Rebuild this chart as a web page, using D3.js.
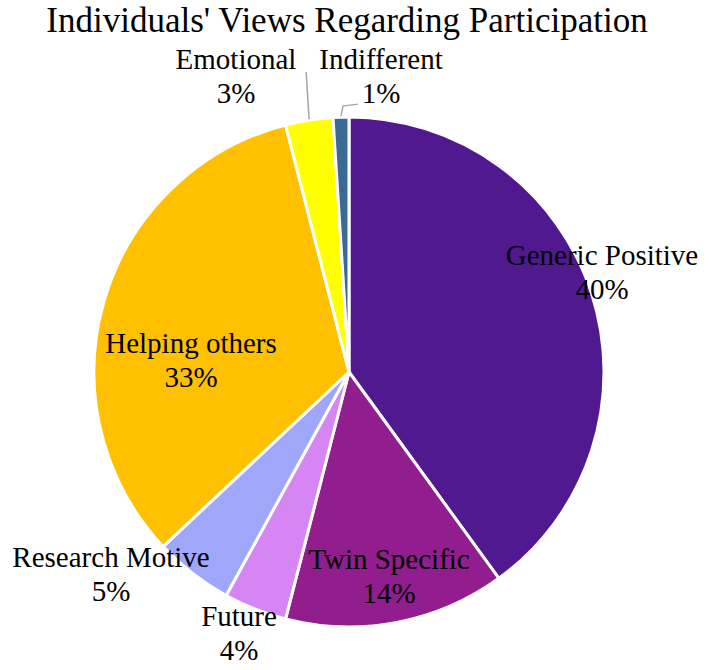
<!DOCTYPE html>
<html><head><meta charset="utf-8">
<script src="https://cdn.jsdelivr.net/npm/d3@7"></script>
<style>html,body{margin:0;padding:0;background:#fff;}svg{display:block;} text{font-family:"Liberation Serif","Times New Roman",Tinos,"DejaVu Serif",serif;}</style>
</head><body>
<svg id="c" width="709" height="670"></svg>
<script>
const categories = ["Generic Positive","Twin Specific","Future","Research Motive","Helping others","Emotional","Indifferent"];
const values = [40,14,4,5,33,3,1];
const colors = ["#501990","#911D8F","#D685F5","#A0A7FA","#FFC000","#FFFF00","#3A6A94"];
const title = "Individuals' Views Regarding Participation";
// label layout (center x,y of label block relative to pie center), separate from data
const labelLayout = [[253,-90],[40,214],[-110,271],[-238,212],[-158,-2],[-113,-286],[32,-286]];
const leader = [false,false,false,false,false,true,true];

const W=709,H=670, cx=349, cy=372, R=255;
const svg=d3.select("#c");

svg.append("text").attr("x",347).attr("y",32).attr("text-anchor","middle")
  .attr("font-size",35).attr("fill","#000").text(title);

const data = categories.map((c,i)=>({name:c,value:values[i],color:colors[i],i}));
const pie=d3.pie().value(d=>d.value).sort(null).startAngle(0).endAngle(2*Math.PI);
const arcs=pie(data);
const arc=d3.arc().innerRadius(0).outerRadius(R);
const g=svg.append("g").attr("transform",`translate(${cx},${cy})`);
g.selectAll("path").data(arcs).join("path").attr("d",arc)
  .attr("fill",d=>d.data.color).attr("stroke","#fff").attr("stroke-width",3).attr("stroke-linejoin","round");

// leader lines
arcs.forEach((a,i)=>{
  if(!leader[i]) return;
  const m=(a.startAngle+a.endAngle)/2;
  const p=d3.pointRadial(m,R);
  const [lx,ly]=labelLayout[i];
  let pts;
  if(a.data.name==="Emotional"){
    pts=[[p[0],p[1]-1],[p[0]-3,ly-14]];
  } else {
    pts=[[p[0],p[1]-1],[p[0]+2,p[1]-11],[lx-23,p[1]-13]];
  }
  g.append("path").attr("d",d3.line()(pts)).attr("fill","none").attr("stroke","#A6A6A6").attr("stroke-width",1.5);
});

const lab=g.selectAll("g.lab").data(arcs).join("g").attr("class","lab")
  .attr("transform",(d,i)=>`translate(${labelLayout[i][0]},${labelLayout[i][1]})`);
lab.append("text").attr("text-anchor","middle").attr("y",-17)
  .attr("font-size",29).attr("fill","#000").text(d=>d.data.name);
lab.append("text").attr("text-anchor","middle").attr("y",17)
  .attr("font-size",29).attr("fill","#000").text(d=>d.data.value+"%");
</script>
</body></html>
